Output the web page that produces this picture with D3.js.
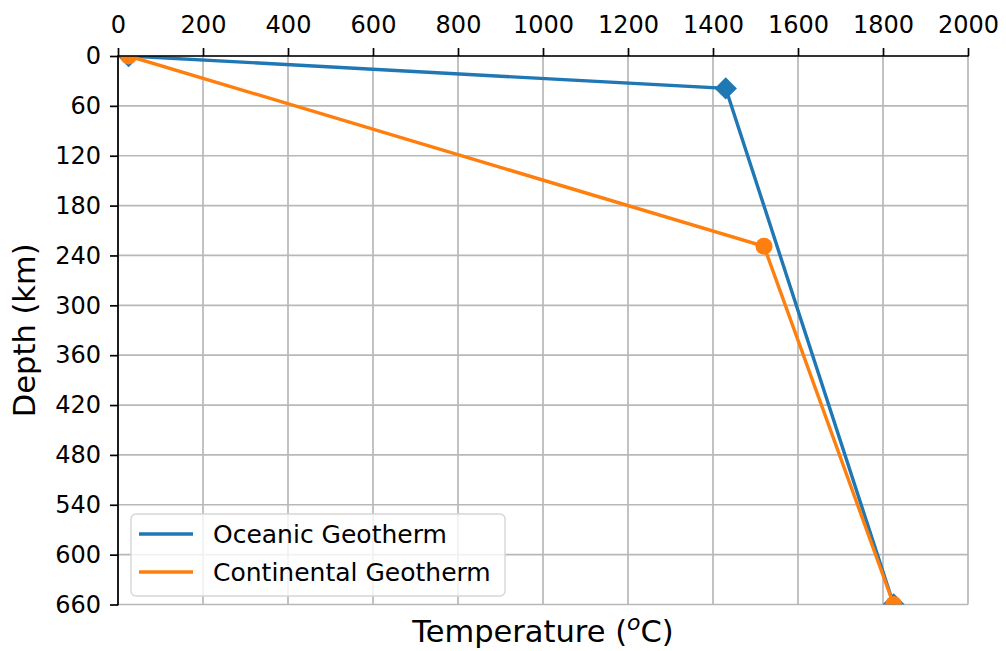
<!DOCTYPE html>
<html>
<head>
<meta charset="utf-8">
<script src="https://cdn.jsdelivr.net/npm/d3@7"></script>
<style>
  html, body { margin: 0; padding: 0; background: #fff; }
  svg { display: block; font-family: "DejaVu Sans", sans-serif; }
</style>
</head>
<body>
<svg id="chart" width="1006" height="651"></svg>
<script>
// Geotherm profiles: temperature (°C) against depth (km)
const oceanicTemp = [25, 1430, 1825];
const oceanicDepth = [0, 39, 660];
const continentalTemp = [25, 1520, 1825];
const continentalDepth = [0, 229, 660];

const xTicks = [0, 200, 400, 600, 800, 1000, 1200, 1400, 1600, 1800, 2000];
const yTicks = [0, 60, 120, 180, 240, 300, 360, 420, 480, 540, 600, 660];

const seriesNames = ["Oceanic Geotherm", "Continental Geotherm"];
const seriesColors = ["#1f77b4", "#ff7f0e"];

const svg = d3.select("#chart");
const plotLeft = 118, plotRight = 968, plotTop = 56, plotBottom = 604.5;

const x = d3.scaleLinear().domain([0, 2000]).range([plotLeft, plotRight]);
const y = d3.scaleLinear().domain([0, 660]).range([plotTop, plotBottom]);

// clip region for the plot area
svg.append("defs").append("clipPath").attr("id", "plotClip")
  .append("rect").attr("x", plotLeft).attr("y", plotTop)
  .attr("width", plotRight - plotLeft).attr("height", plotBottom - plotTop);

// grid
const grid = svg.append("g");
grid.selectAll("line.vx").data(xTicks).join("line")
  .attr("class", "vx")
  .attr("x1", d => x(d)).attr("x2", d => x(d))
  .attr("y1", plotTop).attr("y2", plotBottom)
  .attr("stroke", "#b8b8b8").attr("stroke-width", 1.7);
grid.selectAll("line.hy").data(yTicks).join("line")
  .attr("class", "hy")
  .attr("x1", plotLeft).attr("x2", plotRight)
  .attr("y1", d => y(d)).attr("y2", d => y(d))
  .attr("stroke", "#b8b8b8").attr("stroke-width", 1.7);

// axes: top and left
const xAxis = d3.axisTop(x).tickValues(xTicks).tickSize(8).tickPadding(15).tickFormat(d3.format("d"));
const yAxis = d3.axisLeft(y).tickValues(yTicks).tickSize(8).tickPadding(9).tickFormat(d3.format("d"));

const gx = svg.append("g").attr("transform", `translate(0,${plotTop})`).call(xAxis);
const gy = svg.append("g").attr("transform", `translate(${plotLeft},0)`).call(yAxis);
[gx, gy].forEach(g => {
  g.select(".domain").remove();
  g.selectAll(".tick line").attr("stroke", "#000").attr("stroke-width", 1.7);
  g.selectAll(".tick text").attr("fill", "#000").style("font-size", "24px")
    .style("font-family", "DejaVu Sans");
});

// series
const line = d3.line().x(d => x(d[0])).y(d => y(d[1]));
const plot = svg.append("g").attr("clip-path", "url(#plotClip)");

const oceanic = oceanicTemp.map((t, i) => [t, oceanicDepth[i]]);
const continental = continentalTemp.map((t, i) => [t, continentalDepth[i]]);

plot.append("path").datum(oceanic).attr("d", line)
  .attr("fill", "none").attr("stroke", seriesColors[0]).attr("stroke-width", 3.4);
plot.selectAll("path.dia").data(oceanic).join("path")
  .attr("class", "dia")
  .attr("d", d3.symbol().type(d3.symbolSquare).size(250))
  .attr("transform", d => `translate(${x(d[0])},${y(d[1])}) rotate(45)`)
  .attr("fill", seriesColors[0]);

plot.append("path").datum(continental).attr("d", line)
  .attr("fill", "none").attr("stroke", seriesColors[1]).attr("stroke-width", 3.4);
plot.selectAll("circle.dot").data(continental).join("circle")
  .attr("class", "dot")
  .attr("cx", d => x(d[0])).attr("cy", d => y(d[1])).attr("r", 8.5)
  .attr("fill", seriesColors[1]);

// spines
svg.append("line").attr("x1", plotLeft).attr("x2", plotRight + 0.8).attr("y1", plotTop).attr("y2", plotTop)
  .attr("stroke", "#000").attr("stroke-width", 1.7);
svg.append("line").attr("x1", plotLeft).attr("x2", plotLeft).attr("y1", plotTop - 0.8).attr("y2", plotBottom + 0.8)
  .attr("stroke", "#000").attr("stroke-width", 1.7);

// axis titles
const xl = svg.append("text").attr("x", (plotLeft + plotRight) / 2).attr("y", 642)
  .attr("text-anchor", "middle").style("font-size", "30.5px").attr("fill", "#000");
xl.append("tspan").text("Temperature (");
xl.append("tspan").attr("dy", -12).style("font-size", "22px").style("font-style", "italic").text("o");
xl.append("tspan").attr("dy", 12).text("C)");

svg.append("text")
  .attr("transform", `translate(35,${(plotTop + plotBottom) / 2}) rotate(-90)`)
  .attr("text-anchor", "middle").style("font-size", "30.5px").attr("fill", "#000")
  .text("Depth (km)");

// legend
const lg = svg.append("g");
lg.append("rect").attr("x", 131).attr("y", 514).attr("width", 374).attr("height", 82)
  .attr("rx", 5).attr("fill", "#fff").attr("fill-opacity", 0.8)
  .attr("stroke", "#d6d6d6").attr("stroke-width", 1.4);
seriesNames.forEach((name, i) => {
  const cy = 534 + i * 38;
  lg.append("line").attr("x1", 139).attr("x2", 193).attr("y1", cy).attr("y2", cy)
    .attr("stroke", seriesColors[i]).attr("stroke-width", 3.4);
  lg.append("text").attr("x", 213).attr("y", cy + 9).style("font-size", "25px")
    .attr("fill", "#000").text(name);
});
</script>
</body>
</html>
